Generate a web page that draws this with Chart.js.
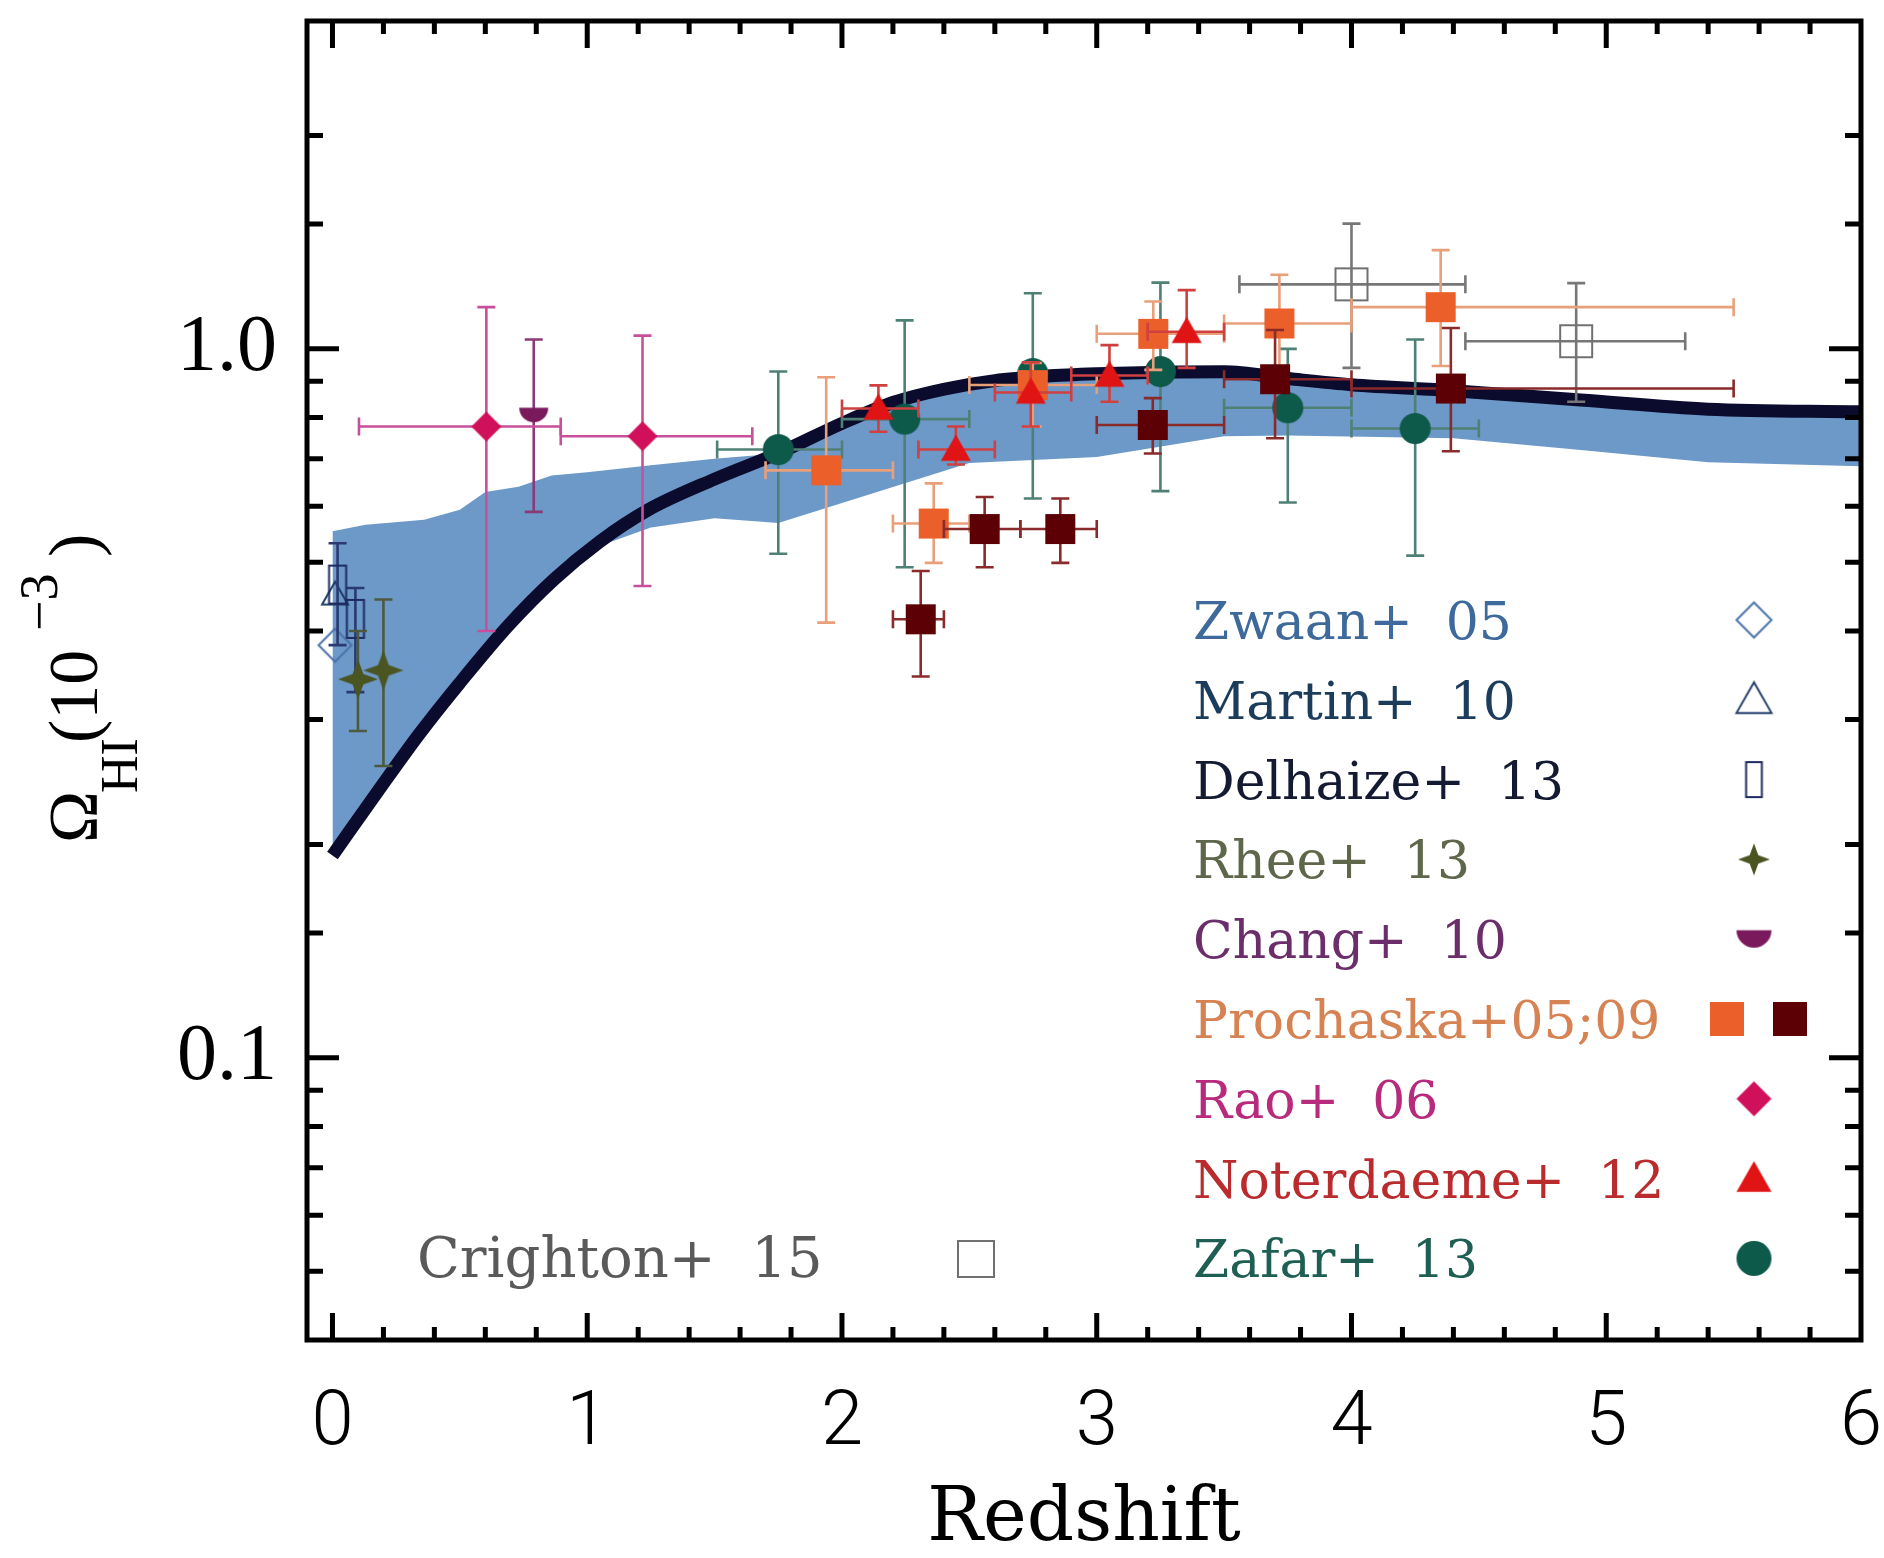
<!DOCTYPE html>
<html>
<head>
<meta charset="utf-8">
<title>Omega HI vs redshift</title>
<script src="https://cdn.jsdelivr.net/npm/chart.js@4.4.1/dist/chart.umd.min.js"></script>
<style>
  html, body { margin: 0; padding: 0; background: #fff; }
  #box { width: 1884px; height: 1558px; }
</style>
</head>
<body>
<div id="box"><canvas id="omegaChart" width="1884" height="1558"></canvas></div>
<script>
// tick labels
const xTickLabels = ['0', '1', '2', '3', '4', '5', '6'];
const yLabelValues = [0.1, 1];
const yLabelTexts = ['0.1', '1.0'];

// model (thick line) and shaded range
const modelZ = [0, 0.19, 0.34, 0.5, 0.69, 0.87, 1.05, 1.24, 1.5, 1.76, 2.0, 2.2, 2.4, 2.6, 2.8, 3.0, 3.25, 3.5, 3.75, 4.0, 4.4, 4.9, 5.4, 6.0];
const modelOmega = [0.193, 0.241, 0.286, 0.338, 0.407, 0.473, 0.535, 0.593, 0.655, 0.715, 0.785, 0.84, 0.877, 0.902, 0.915, 0.922, 0.927, 0.928, 0.908, 0.89, 0.873, 0.847, 0.822, 0.815];

const bandZ = [0, 0.13, 0.36, 0.5, 0.6, 0.73, 0.86, 1.0, 1.25, 1.5, 1.75, 2.15, 2.5, 3.0, 3.5, 3.75, 4.4, 4.9, 5.4, 6.0];
const bandHigh = [0.553, 0.565, 0.574, 0.593, 0.628, 0.639, 0.663, 0.67, 0.685, 0.70, 0.712, 0.82, 0.88, 0.91, 0.915, 0.895, 0.86, 0.835, 0.81, 0.803];
const bandLow = [0.195, 0.227, 0.283, 0.335, 0.37, 0.42, 0.47, 0.52, 0.56, 0.577, 0.568, 0.63, 0.69, 0.704, 0.753, 0.755, 0.748, 0.72, 0.692, 0.683];

// observations: redshift, Omega_HI, redshift range, Omega_HI range
const zwaanZ = [0.01];
const zwaanOmega = [0.382];

const martinZ = [0.01];
const martinOmega = [0.45];

const delhaizeZ = [0.02, 0.09];
const delhaizeOmega = [0.465, 0.416];
const delhaizeOmegaRange = [[0.382, 0.532], [0.328, 0.46]];

const rheeZ = [0.1, 0.2];
const rheeOmega = [0.342, 0.352];
const rheeOmegaRange = [[0.289, 0.40], [0.258, 0.443]];

const changZ = [0.79];
const changOmega = [0.826];
const changOmegaRange = [[0.589, 1.031]];

const raoZ = [0.604, 1.217];
const raoOmega = [0.777, 0.753];
const raoZRange = [[0.104, 0.896], [0.896, 1.648]];
const raoOmegaRange = [[0.40, 1.145], [0.463, 1.044]];

const zafarZ = [1.75, 2.246, 2.749, 3.25, 3.75, 4.25];
const zafarOmega = [0.721, 0.796, 0.923, 0.929, 0.826, 0.772];
const zafarZRange = [[1.51, 2.0], [2.0, 2.5], [2.749, 2.749], [3.25, 3.25], [3.5, 4.0], [4.0, 4.5]];
const zafarOmegaRange = [[0.514, 0.929], [0.492, 1.097], [0.615, 1.198], [0.63, 1.24], [0.607, 1.0], [0.511, 1.031]];

const pro05Z = [1.938, 2.36, 2.749, 3.222, 3.717, 4.35];
const pro05Omega = [0.674, 0.567, 0.889, 1.05, 1.086, 1.145];
const pro05ZRange = [[1.70, 2.2], [2.2, 2.5], [2.5, 3.0], [3.0, 3.5], [3.5, 4.0], [4.0, 5.5]];
const pro05OmegaRange = [[0.411, 0.912], [0.499, 0.646], [0.777, 0.955], [0.934, 1.166], [0.946, 1.272], [0.946, 1.378]];

const pro09Z = [2.309, 2.56, 2.857, 3.22, 3.70, 4.39];
const pro09Omega = [0.4155, 0.557, 0.557, 0.781, 0.906, 0.879];
const pro09ZRange = [[2.2, 2.4], [2.4, 2.7], [2.7, 3.0], [3.0, 3.5], [3.5, 4.0], [4.0, 5.5]];
const pro09OmegaRange = [[0.345, 0.486], [0.492, 0.618], [0.499, 0.615], [0.712, 0.852], [0.748, 1.063], [0.717, 1.07]];

const noterZ = [2.143, 2.447, 2.741, 3.05, 3.353];
const noterOmega = [0.824, 0.721, 0.868, 0.917, 1.057];
const noterZRange = [[2.0, 2.3], [2.3, 2.6], [2.6, 2.9], [2.9, 3.2], [3.2, 3.5]];
const noterOmegaRange = [[0.764, 0.888], [0.687, 0.777], [0.777, 0.957], [0.842, 1.012], [0.94, 1.21]];

const crightonZ = [4.0, 4.882];
const crightonOmega = [1.233, 1.025];
const crightonZRange = [[3.56, 4.447], [4.447, 5.31]];
const crightonOmegaRange = [[0.94, 1.502], [0.842, 1.238]];

// legend
const legendNames = ['Zwaan+  05', 'Martin+  10', 'Delhaize+  13', 'Rhee+  13', 'Chang+  10', 'Prochaska+05;09', 'Rao+  06', 'Noterdaeme+  12', 'Zafar+  13'];
const legendColors = ['#3d6a9a', '#1c3c5c', '#151a33', '#5e6749', '#6b2e6b', '#d68252', '#b72a7c', '#b92b2d', '#1f5e52'];
const crightonName = 'Crighton+  15';

function toPoints(z, omega, zRange, omegaRange) {
  return z.map((v, i) => ({
    x: v,
    y: omega[i],
    zLo: zRange ? zRange[i][0] : v,
    zHi: zRange ? zRange[i][1] : v,
    oLo: omegaRange ? omegaRange[i][0] : omega[i],
    oHi: omegaRange ? omegaRange[i][1] : omega[i]
  }));
}

function makeMarker(shape, size, fill, stroke, lineW) {
  const pad = 4;
  const c = document.createElement('canvas');
  c.width = size + pad * 2;
  c.height = size + pad * 2;
  const g = c.getContext('2d');
  const cx = c.width / 2, cy = c.height / 2, r = size / 2;
  g.beginPath();
  if (shape === 'diamond') {
    g.moveTo(cx, cy - r); g.lineTo(cx + r, cy); g.lineTo(cx, cy + r); g.lineTo(cx - r, cy); g.closePath();
  } else if (shape === 'triangle') {
    g.moveTo(cx, cy - r); g.lineTo(cx + r, cy + r * 0.75); g.lineTo(cx - r, cy + r * 0.75); g.closePath();
  } else if (shape === 'square') {
    g.rect(cx - r, cy - r, size, size);
  } else if (shape === 'bar') {
    g.rect(cx - r * 0.45, cy - r, r * 0.9, size);
  } else if (shape === 'circle') {
    g.arc(cx, cy, r, 0, Math.PI * 2);
  } else if (shape === 'half') {
    g.arc(cx, cy, r, 0, Math.PI); g.closePath();
  } else if (shape === 'star') {
    for (let i = 0; i < 8; i++) {
      const a = -Math.PI / 2 + i * Math.PI / 4;
      const rr = i % 2 === 0 ? r : r * 0.38;
      g.lineTo(cx + rr * Math.cos(a), cy + rr * Math.sin(a));
    }
    g.closePath();
  }
  if (fill) { g.fillStyle = fill; g.fill(); }
  if (stroke) { g.strokeStyle = stroke; g.lineWidth = lineW || 2; g.stroke(); }
  return c;
}

const styles = {
  zwaan: ['diamond', null, '#4a72a8', 2],
  martin: ['triangle', null, '#203c68', 2],
  delhaize: ['bar', null, '#1e2a60', 2],
  rhee: ['star', '#4a5522', null],
  chang: ['half', '#7a1a5c', null],
  pro05: ['square', '#ea5f2a', null],
  pro09: ['square', '#5c0006', null],
  rao: ['diamond', '#d0105a', null],
  noter: ['triangle', '#e01414', null],
  zafar: ['circle', '#0e5a4a', null],
  crighton: ['square', null, '#707070', 2]
};
function marker(key, size) {
  const s = styles[key];
  return makeMarker(s[0], size, s[1], s[2], s[3]);
}

function obs(label, key, size, pts, errColor, order) {
  return {
    type: 'scatter', label, data: pts, errColor, order,
    pointStyle: marker(key, size), pointRadius: size / 2, pointHoverRadius: size / 2
  };
}

const errorBars = {
  id: 'errorBars',
  beforeDatasetDraw(chart, args) {
    const ds = chart.data.datasets[args.index];
    if (!ds.errColor) return;
    const { ctx, chartArea: a, scales: { x, y } } = chart;
    const cap = 9;
    ctx.save();
    ctx.beginPath();
    ctx.rect(a.left, a.top, a.right - a.left, a.bottom - a.top);
    ctx.clip();
    ctx.strokeStyle = ds.errColor;
    ctx.lineWidth = 2.6;
    ds.data.forEach(p => {
      const px = x.getPixelForValue(p.x), py = y.getPixelForValue(p.y);
      ctx.beginPath();
      if (p.zHi > p.zLo) {
        const x0 = x.getPixelForValue(p.zLo), x1 = x.getPixelForValue(p.zHi);
        ctx.moveTo(x0, py); ctx.lineTo(x1, py);
        ctx.moveTo(x0, py - cap); ctx.lineTo(x0, py + cap);
        ctx.moveTo(x1, py - cap); ctx.lineTo(x1, py + cap);
      }
      if (p.oHi > p.oLo) {
        const y0 = y.getPixelForValue(p.oLo), y1 = y.getPixelForValue(p.oHi);
        ctx.moveTo(px, y0); ctx.lineTo(px, y1);
        ctx.moveTo(px - cap, y0); ctx.lineTo(px + cap, y0);
        ctx.moveTo(px - cap, y1); ctx.lineTo(px + cap, y1);
      }
      ctx.stroke();
    });
    ctx.restore();
  }
};

const frame = {
  id: 'frame',
  afterDraw(chart) {
    const { ctx, chartArea: a, scales: { x, y } } = chart;
    ctx.save();
    ctx.strokeStyle = '#000';
    ctx.lineWidth = 5;
    ctx.beginPath();
    x.ticks.forEach(t => {
      const v = t.value;
      if (v <= x.min || v >= x.max) return;
      const px = x.getPixelForValue(v);
      const len = Math.abs(v - Math.round(v)) < 1e-6 ? 27 : 13;
      ctx.moveTo(px, a.bottom); ctx.lineTo(px, a.bottom - len);
      ctx.moveTo(px, a.top); ctx.lineTo(px, a.top + len);
    });
    y.ticks.forEach(t => {
      const v = t.value;
      if (v <= y.min * 1.0001 || v >= y.max * 0.9999) return;
      const py = y.getPixelForValue(v);
      const lg = Math.log10(v);
      const len = Math.abs(lg - Math.round(lg)) < 1e-6 ? 32 : 16;
      ctx.moveTo(a.left, py); ctx.lineTo(a.left + len, py);
      ctx.moveTo(a.right, py); ctx.lineTo(a.right - len, py);
    });
    ctx.stroke();
    ctx.strokeRect(a.left, a.top, a.right - a.left, a.bottom - a.top);
    ctx.restore();
  }
};

const legendKeys = ['zwaan', 'martin', 'delhaize', 'rhee', 'chang', 'pro05', 'rao', 'noter', 'zafar'];
const notes = {
  id: 'notes',
  afterDraw(chart) {
    const ctx = chart.ctx;
    ctx.save();
    ctx.textAlign = 'left';
    ctx.textBaseline = 'alphabetic';
    ctx.font = '52px "DejaVu Serif"';
    legendNames.forEach((name, i) => {
      const base = 639 + i * 79.8;
      ctx.fillStyle = legendColors[i];
      ctx.fillText(name, 1193, base);
      const key = legendKeys[i];
      const cy = base - 19;
      if (key === 'pro05') {
        const m1 = marker('pro05', 34), m2 = marker('pro09', 34);
        ctx.drawImage(m1, 1727 - m1.width / 2, cy - m1.height / 2);
        ctx.drawImage(m2, 1790 - m2.width / 2, cy - m2.height / 2);
      } else {
        const m = marker(key, key === 'rhee' ? 32 : 35);
        const dy = key === 'chang' ? -9 : 0;
        ctx.drawImage(m, 1754 - m.width / 2, cy + dy - m.height / 2);
      }
    });
    ctx.fillStyle = '#5a5a5a';
    ctx.font = '56px "DejaVu Serif"';
    ctx.fillText(crightonName, 417, 639 + 8 * 79.8);
    const mc = marker('crighton', 36);
    ctx.drawImage(mc, 976 - mc.width / 2, 1259 - mc.height / 2);

    // y axis title
    ctx.translate(97, 843);
    ctx.rotate(-Math.PI / 2);
    ctx.fillStyle = '#000';
    ctx.font = '70px "Liberation Serif"';
    ctx.fillText('\u03A9', 0, 0);
    ctx.font = '52px "Liberation Serif"';
    ctx.fillText('HI', 50, 40);
    ctx.font = '70px "Liberation Serif"';
    ctx.fillText('(10', 100, 0);
    ctx.font = '54px "Liberation Serif"';
    ctx.fillText('\u22123', 212, -40);
    ctx.font = '70px "Liberation Serif"';
    ctx.fillText(')', 286, 0);
    ctx.restore();
  }
};

function zeroPad(s) {
  s.paddingLeft = 0; s.paddingRight = 0; s.paddingTop = 0; s.paddingBottom = 0;
}

const ctx = document.getElementById('omegaChart').getContext('2d');
const omegaChart = new Chart(ctx, {
  type: 'scatter',
  data: {
    datasets: [
      {
        type: 'line', label: 'range high', data: bandZ.map((z, i) => ({ x: z, y: bandHigh[i] })),
        borderWidth: 0, borderColor: 'rgba(0,0,0,0)', pointRadius: 0, fill: '+1',
        backgroundColor: '#6c99c8', order: 30
      },
      {
        type: 'line', label: 'range low', data: bandZ.map((z, i) => ({ x: z, y: bandLow[i] })),
        borderWidth: 0, borderColor: 'rgba(0,0,0,0)', pointRadius: 0, fill: false, order: 31
      },
      {
        type: 'line', label: 'model', data: modelZ.map((z, i) => ({ x: z, y: modelOmega[i] })),
        borderColor: '#0b0b2e', borderWidth: 13, pointRadius: 0, fill: false,
        cubicInterpolationMode: 'monotone', borderJoinStyle: 'round', order: 20
      },
      obs('Zwaan+ 05', 'zwaan', 33, toPoints(zwaanZ, zwaanOmega), null, 14),
      obs('Martin+ 10', 'martin', 26, toPoints(martinZ, martinOmega), null, 13),
      obs('Delhaize+ 13', 'delhaize', 38, toPoints(delhaizeZ, delhaizeOmega, null, delhaizeOmegaRange), '#2a3a70', 12),
      obs('Rhee+ 13', 'rhee', 40, toPoints(rheeZ, rheeOmega, null, rheeOmegaRange), '#4d5a40', 11),
      obs('Chang+ 10', 'chang', 29, toPoints(changZ, changOmega, null, changOmegaRange), '#8a3a78', 10),
      obs('Rao+ 06', 'rao', 30, toPoints(raoZ, raoOmega, raoZRange, raoOmegaRange), '#c8509a', 9),
      obs('Zafar+ 13', 'zafar', 31, toPoints(zafarZ, zafarOmega, zafarZRange, zafarOmegaRange), '#4f8075', 8),
      obs('Crighton+ 15', 'crighton', 32, toPoints(crightonZ, crightonOmega, crightonZRange, crightonOmegaRange), '#777777', 7),
      obs('Prochaska+ 05', 'pro05', 30, toPoints(pro05Z, pro05Omega, pro05ZRange, pro05OmegaRange), '#e8a07a', 6),
      obs('Prochaska+ 09', 'pro09', 30, toPoints(pro09Z, pro09Omega, pro09ZRange, pro09OmegaRange), '#8a2a2a', 5),
      obs('Noterdaeme+ 12', 'noter', 30, toPoints(noterZ, noterOmega, noterZRange, noterOmegaRange), '#cf4040', 4)
    ]
  },
  options: {
    responsive: false,
    animation: false,
    devicePixelRatio: 1,
    layout: { padding: { top: 12, right: 23, bottom: 0, left: 0 } },
    plugins: { legend: { display: false }, tooltip: { enabled: false } },
    scales: {
      x: {
        type: 'linear', position: 'bottom', min: -0.1, max: 6,
        grid: { display: false, drawTicks: false },
        border: { display: false },
        ticks: {
          stepSize: 0.2, includeBounds: false, autoSkip: false, maxRotation: 0, minRotation: 0,
          padding: 47, color: '#000',
          font: { family: 'Roboto, "Liberation Sans", sans-serif', size: 76, weight: 300, lineHeight: 1 },
          callback(v) {
            return Math.abs(v - Math.round(v)) < 1e-6 ? (xTickLabels[Math.round(v)] || '') : '';
          }
        },
        title: {
          display: true, text: 'Redshift', color: '#000',
          font: { family: '"DejaVu Serif"', size: 74, lineHeight: 1 },
          padding: { top: 0, bottom: 0 }
        },
        afterFit(s) { s.height = 218; zeroPad(s); }
      },
      y: {
        type: 'logarithmic', position: 'left', min: 0.04, max: 2.9,
        grid: { display: false, drawTicks: false },
        border: { display: false },
        ticks: {
          autoSkip: false, padding: 30, color: '#000',
          font: { family: '"Liberation Serif"', size: 80, lineHeight: 1 },
          callback(v) {
            const i = yLabelValues.findIndex(t => Math.abs(t - v) < 1e-6);
            return i >= 0 ? yLabelTexts[i] : '';
          }
        },
        afterFit(s) { s.width = 307; zeroPad(s); }
      }
    }
  },
  plugins: [errorBars, frame, notes]
});
</script>
</body>
</html>
